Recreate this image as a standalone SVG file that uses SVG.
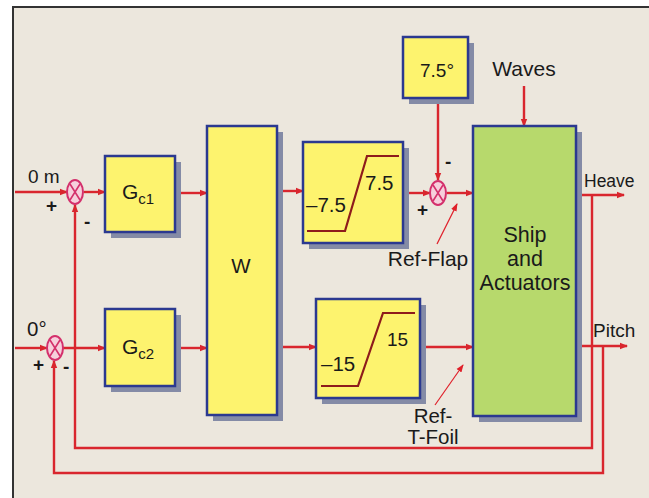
<svg xmlns="http://www.w3.org/2000/svg" width="649" height="498" viewBox="0 0 649 498">
<defs>
<style>
.box{fill:#FDF36E;stroke:#2B3990;stroke-width:2.5}
.ship{fill:#B7D96C;stroke:#2B3990;stroke-width:2.5}
.shadow{fill:#848BA6}
.sum{fill:#F6CFDC;stroke:#D4306C;stroke-width:2}
.sumx{stroke:#D4306C;stroke-width:1.6;fill:none}
.wire{fill:none;stroke:#D9262E;stroke-width:2.4;marker-end:url(#ah)}
.sat{fill:none;stroke:#8E1B1B;stroke-width:2.2}
.ptr{fill:none;stroke:#E0202A;stroke-width:1.2;marker-end:url(#ahs)}
text{font-family:"Liberation Sans",Arial,sans-serif;fill:#1A1A1A}
.t17{font-size:17.5px}
.t19{font-size:19px}
.t20{font-size:20.5px}
.t21{font-size:21px}
.big{font-size:21.5px}
.sub{font-size:15px}
.sign{font-size:19px;font-weight:bold}
</style>
<marker id="ah" markerWidth="8" markerHeight="8" refX="7" refY="4" orient="auto" markerUnits="userSpaceOnUse">
<path d="M0,0.8 L8,4 L0,7.2 z" fill="#D9262E"/>
</marker>
<marker id="ahs" markerWidth="8" markerHeight="8" refX="7" refY="4" orient="auto" markerUnits="userSpaceOnUse">
<path d="M0,1 L8,4 L0,7 z" fill="#E0202A"/>
</marker>
</defs>
<rect x="0" y="0" width="649" height="498" fill="#FFFFFF"/>
<rect x="13" y="7" width="650" height="500" fill="#ECE7DD" stroke="#333333" stroke-width="2"/>

<g id="connectors">
<polyline class="wire" points="15,192 67,192"/>
<polyline class="wire" points="84,192 105,192"/>
<polyline class="wire" points="176,193 207,193"/>
<polyline class="wire" points="277,191 303,191"/>
<polyline class="wire" points="405,193 430,193"/>
<polyline class="wire" points="447,193 473,193"/>
<polyline class="wire" points="438,99 438,180"/>
<polyline class="wire" points="524,86 524,126"/>
<polyline class="wire" points="577,195 624,195"/>
<polyline class="wire" points="592,195 592,448 75,448 75,205"/>
<polyline class="wire" points="15,348 47,348"/>
<polyline class="wire" points="63,348 105,348"/>
<polyline class="wire" points="176,348 207,348"/>
<polyline class="wire" points="277,347 316,347"/>
<polyline class="wire" points="420,347 473,347"/>
<polyline class="wire" points="577,346 627,346"/>
<polyline class="wire" points="603,346 603,473 54,473 54,361"/>
<line class="ptr" x1="437" y1="244" x2="457" y2="204"/>
<line class="ptr" x1="435" y1="405" x2="463" y2="365"/>
</g>

<g id="sum1">
<ellipse class="sum" cx="75" cy="192" rx="8" ry="12"/>
<path class="sumx" d="M70,184 L80,200 M80,184 L70,200"/>
<text class="sign" x="46" y="212">+</text>
<text class="sign" x="84" y="228">-</text>
<text class="t19" x="28" y="183">0 m</text>
</g>
<g id="sum2">
<ellipse class="sum" cx="55" cy="348" rx="8" ry="12"/>
<path class="sumx" d="M50,340 L60,356 M60,340 L50,356"/>
<text class="sign" x="33" y="371">+</text>
<text class="sign" x="63" y="373">-</text>
<text class="t20" x="27" y="336">0°</text>
</g>
<g id="sum3">
<ellipse class="sum" cx="438" cy="193" rx="8" ry="12"/>
<path class="sumx" d="M433,185 L443,201 M443,185 L433,201"/>
<text class="sign" x="417" y="216">+</text>
<text class="sign" x="445" y="168">-</text>
</g>

<g id="gc1">
<rect class="shadow" x="111" y="162" width="70" height="76"/>
<rect class="box" x="105" y="156" width="70" height="76"/>
<text class="t21" x="122" y="199">G<tspan class="sub" dy="5">c1</tspan></text>
</g>
<g id="gc2">
<rect class="shadow" x="111" y="315" width="70" height="77"/>
<rect class="box" x="105" y="309" width="70" height="77"/>
<text class="t21" x="122" y="354">G<tspan class="sub" dy="5">c2</tspan></text>
</g>
<g id="w">
<rect class="shadow" x="213" y="132" width="70" height="289"/>
<rect class="box" x="207" y="126" width="70" height="289"/>
<text class="t20" x="241" y="273" text-anchor="middle">W</text>
</g>
<g id="sat1">
<rect class="shadow" x="309" y="148" width="100" height="101"/>
<rect class="box" x="303" y="142" width="100" height="101"/>
<polyline class="sat" points="307,231 345,231 367,156 399,156"/>
<text class="t20" x="365" y="190">7.5</text>
<text class="t20" x="306" y="212">–7.5</text>
</g>
<g id="ref75">
<rect class="shadow" x="409" y="43" width="65" height="61"/>
<rect class="box" x="403" y="37" width="65" height="61"/>
<text class="t19" x="437" y="77" text-anchor="middle">7.5°</text>
</g>
<g id="sat2">
<rect class="shadow" x="322" y="305" width="104" height="99"/>
<rect class="box" x="316" y="299" width="104" height="99"/>
<polyline class="sat" points="321,386 358,386 383,313 415,313"/>
<text class="t19" x="387" y="346">15</text>
<text class="t20" x="321" y="371">–15</text>
</g>
<g id="ship">
<rect class="shadow" x="479" y="132" width="103" height="290"/>
<rect class="ship" x="473" y="126" width="103" height="290"/>
<text class="big" x="525" y="242" text-anchor="middle">Ship</text>
<text class="big" x="525" y="266" text-anchor="middle">and</text>
<text class="big" x="525" y="290" text-anchor="middle">Actuators</text>
</g>
<g id="labels">
<text class="t21" x="524" y="76" text-anchor="middle">Waves</text>
<text class="t17" x="584" y="187">Heave</text>
<text class="t19" x="593" y="337">Pitch</text>
<text class="t21" x="428" y="266" text-anchor="middle">Ref-Flap</text>
<text class="t20" x="433" y="423" text-anchor="middle">Ref-</text>
<text class="t20" x="433" y="444" text-anchor="middle">T-Foil</text>
</g>
</svg>
